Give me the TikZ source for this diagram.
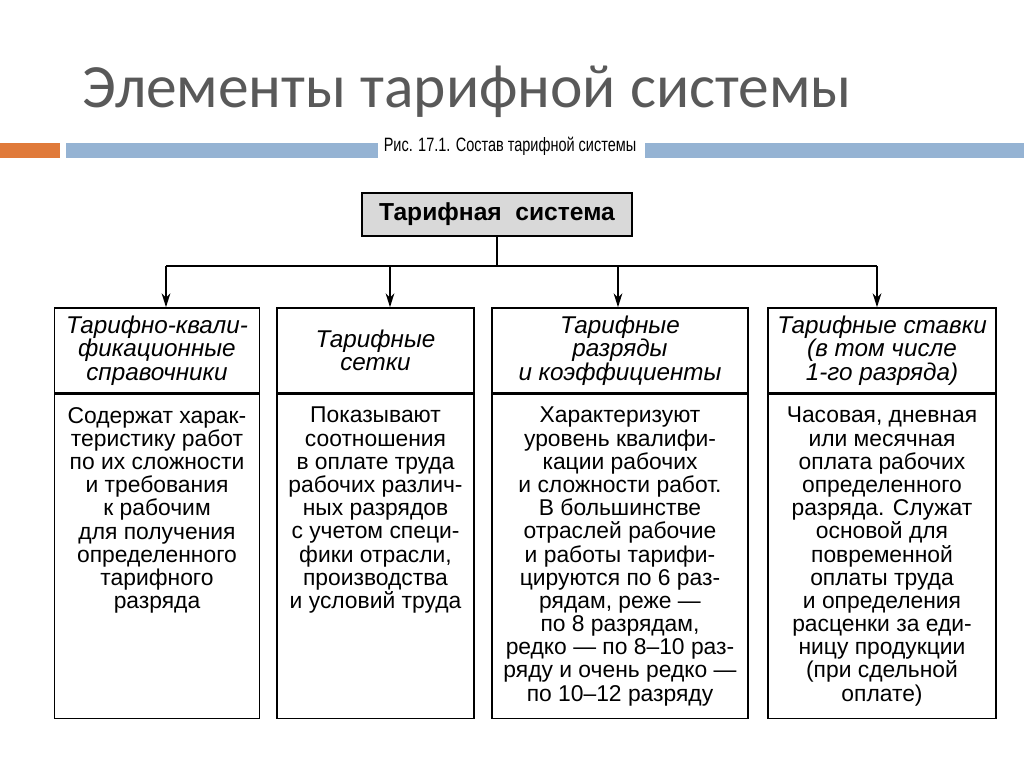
\documentclass[tikz,border=0pt]{standalone}
\usepackage{fontspec}
\setmainfont{Liberation Sans}
\newfontfamily\titlefont{Carlito}
\usetikzlibrary{arrows.meta,positioning}

\definecolor{barorange}{RGB}{224,122,58}
\definecolor{barblue}{RGB}{149,179,211}
\definecolor{titlegray}{RGB}{89,89,89}

\tikzset{
  frame/.style={draw,line width=0.9pt,inner sep=0pt},
  head/.style={frame,minimum height=1.7cm,align=center,font=\itshape\fontsize{13.8}{13.4}\selectfont},
  body/.style={frame,minimum height=6.48cm,anchor=north},
  bodytext/.style={align=center,inner sep=0pt,font=\fontsize{13}{13.2}\selectfont},
  arr/.style={-{Stealth[length=8pt,width=5pt]},line width=0.9pt}
}

\begin{document}
\begin{tikzpicture}[x=0.02cm,y=-0.02cm]
\useasboundingbox (0,0) rectangle (1024,768);
\fill[barorange] (0,143) rectangle (60,158);
\fill[barblue] (66,143) rectangle (378,158);
\fill[barblue] (645,143) rectangle (1024,158);

\node[text=titlegray,font=\titlefont\fontsize{35}{40}\selectfont] (title) at (467,92) {Элементы тарифной системы};
\node (caption) at (510,146) {\scalebox{0.75}[1]{\fontsize{11}{12}\selectfont Рис. 17.1. Состав тарифной системы}};

\node[frame,line width=1.3pt,fill=gray!30,minimum width=5.4cm,minimum height=0.86cm,font=\bfseries\fontsize{14}{16}\selectfont] (sys) at (497,214.5) {Тарифная\ \ система};

\node[head,minimum width=4.1cm] (h1) at (157,350.5) {Тарифно-квали-\\фикационные\\справочники};
\node[head,minimum width=3.94cm] (h2) at (375.5,350.5) {Тарифные\\сетки};
\node[head,minimum width=5.12cm] (h3) at (620,350.5) {Тарифные\\разряды\\и коэффициенты};
\node[head,minimum width=4.56cm] (h4) at (882,350.5) {Тарифные ставки\\(в том числе\\1-го разряда)};

\node[body,minimum width=4.1cm] (b1) at (h1.south) {};
\node[body,minimum width=3.94cm] (b2) at (h2.south) {};
\node[body,minimum width=5.12cm] (b3) at (h3.south) {};
\node[body,minimum width=4.56cm] (b4) at (h4.south) {};

\node[bodytext,below=0.26cm of b1.north] (t1) {Содержат харак-\\теристику работ\\по их сложности\\и требования\\к рабочим\\для получения\\определенного\\тарифного\\разряда};
\node[bodytext,below=0.26cm of b2.north] (t2) {Показывают\\соотношения\\в оплате труда\\рабочих различ-\\ных разрядов\\с учетом специ-\\фики отрасли,\\производства\\и условий труда};
\node[bodytext,below=0.26cm of b3.north] (t3) {Характеризуют\\уровень квалифи-\\кации рабочих\\и сложности работ.\\В большинстве\\отраслей рабочие\\и работы тарифи-\\цируются по 6 раз-\\рядам, реже —\\по 8 разрядам,\\редко — по 8–10 раз-\\ряду и очень редко —\\по 10–12 разряду};
\node[bodytext,below=0.26cm of b4.north] (t4) {Часовая, дневная\\или месячная\\оплата рабочих\\определенного\\разряда. Служат\\основой для\\повременной\\оплаты труда\\и определения\\расценки за еди-\\ницу продукции\\(при сдельной\\оплате)};

\coordinate (j1) at (166,266);
\coordinate (j2) at (390,266);
\coordinate (j3) at (618,266);
\coordinate (j4) at (877,266);
\draw[line width=0.9pt] (sys.south) -- (sys.south |- j1);
\draw[line width=0.9pt] (j1) -- (j4);
\foreach \i in {1,...,4}
  \draw[arr] (j\i) -- (j\i |- h\i.north);
\end{tikzpicture}
\end{document}
